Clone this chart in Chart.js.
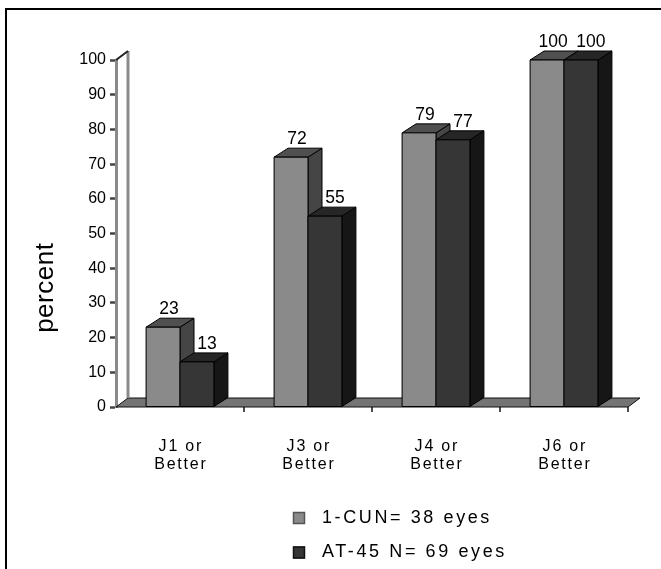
<!DOCTYPE html>
<html>
<head>
<meta charset="utf-8">
<script src="https://cdn.jsdelivr.net/npm/chart.js@4/dist/chart.umd.min.js"></script>
<style>
  html, body { margin: 0; padding: 0; background: #fff; }
  #wrap { width: 661px; height: 569px; }
</style>
</head>
<body>
<div id="wrap"><canvas id="c" width="661" height="569"></canvas></div>
<script>
// Categories (two-line labels) and the two series, in percent
const categories = [['J1 or', 'Better'], ['J3 or', 'Better'], ['J4 or', 'Better'], ['J6 or', 'Better']];
const cunValues = [23, 72, 79, 100];
const at45Values = [13, 55, 77, 100];
const seriesNames = ['1-CUN= 38 eyes', 'AT-45 N= 69 eyes'];
const yTickValues = [0, 10, 20, 30, 40, 50, 60, 70, 80, 90, 100];
const yAxisTitle = 'percent';

const FONT = '"Liberation Sans", Arial, Helvetica, sans-serif';
const DEPTH_X = 14, DEPTH_Y = 9;

// Face colours per series: front, top, side; plus value label shift
const faces = [
  { front: '#8a8a8a', top: '#505050', side: '#454545', labelShift: 6 },
  { front: '#363636', top: '#262626', side: '#161616', labelShift: 10 }
];

function poly(ctx, pts, fill, stroke) {
  ctx.beginPath();
  ctx.moveTo(pts[0][0], pts[0][1]);
  for (let i = 1; i < pts.length; i++) ctx.lineTo(pts[i][0], pts[i][1]);
  ctx.closePath();
  ctx.fillStyle = fill;
  ctx.fill();
  ctx.strokeStyle = stroke || '#000';
  ctx.lineWidth = 1;
  ctx.stroke();
}

function spacedText(ctx, text, x, y, spacing) {
  ctx.letterSpacing = spacing + 'px';
  ctx.fillText(text, x + spacing / 2, y);
  ctx.letterSpacing = '0px';
}

const scene3d = {
  id: 'scene3d',
  beforeDraw(chart) {
    const ctx = chart.ctx;
    ctx.save();
    ctx.fillStyle = '#fff';
    ctx.fillRect(0, 0, chart.width, chart.height);
    // frame: top and left rule
    ctx.strokeStyle = '#000';
    ctx.lineWidth = 2;
    ctx.beginPath();
    ctx.moveTo(6, chart.height);
    ctx.lineTo(6, 9);
    ctx.lineTo(chart.width, 9);
    ctx.stroke();
    ctx.restore();
  },
  beforeDatasetsDraw(chart) {
    const ctx = chart.ctx;
    const a = chart.chartArea;
    const xs = chart.scales.x;
    ctx.save();
    // floor slab
    poly(ctx, [[a.left, a.bottom], [a.right, a.bottom], [a.right + DEPTH_X - 2, a.bottom - DEPTH_Y], [a.left + DEPTH_X - 2, a.bottom - DEPTH_Y]], '#747474', '#111');
    // category separators under the floor
    ctx.strokeStyle = '#111';
    ctx.lineWidth = 1.5;
    for (let i = 1; i <= categories.length; i++) {
      const bx = i < categories.length ? (xs.getPixelForTick(i - 1) + xs.getPixelForTick(i)) / 2 : a.right;
      ctx.beginPath();
      ctx.moveTo(bx, a.bottom);
      ctx.lineTo(bx, a.bottom + 5);
      ctx.stroke();
    }
    // back wall edge and its top connector
    ctx.strokeStyle = '#8a8a8a';
    ctx.lineWidth = 3;
    ctx.beginPath();
    ctx.moveTo(a.left + DEPTH_X - 2, a.bottom - DEPTH_Y);
    ctx.lineTo(a.left + DEPTH_X - 2, a.top - DEPTH_Y);
    ctx.stroke();
    ctx.strokeStyle = '#222';
    ctx.lineWidth = 2;
    ctx.beginPath();
    ctx.moveTo(a.left, a.top);
    ctx.lineTo(a.left + DEPTH_X - 2, a.top - DEPTH_Y);
    ctx.stroke();
    ctx.restore();
  },
  afterDatasetsDraw(chart) {
    const ctx = chart.ctx;
    const metas = chart.data.datasets.map((_, i) => chart.getDatasetMeta(i));
    ctx.save();
    for (let j = 0; j < categories.length; j++) {
      metas.forEach((meta, i) => {
        const bar = meta.data[j];
        const p = bar.getProps(['x', 'y', 'base', 'width'], true);
        const l = p.x - p.width / 2, r = p.x + p.width / 2;
        const t = p.y, b = p.base;
        const f = faces[i];
        // side, top, then the front face on top of the previous bar's side
        poly(ctx, [[r, t], [r + DEPTH_X, t - DEPTH_Y], [r + DEPTH_X, b - DEPTH_Y], [r, b]], f.side);
        poly(ctx, [[l, t], [r, t], [r + DEPTH_X, t - DEPTH_Y], [l + DEPTH_X, t - DEPTH_Y]], f.top);
        poly(ctx, [[l, t], [r, t], [r, b], [l, b]], f.front);
      });
    }
    // value labels above each bar
    ctx.fillStyle = '#000';
    ctx.font = '17.5px ' + FONT;
    ctx.textAlign = 'center';
    ctx.textBaseline = 'alphabetic';
    metas.forEach((meta, i) => {
      meta.data.forEach((bar, j) => {
        const p = bar.getProps(['x', 'y'], true);
        const v = chart.data.datasets[i].data[j];
        ctx.fillText(String(v), p.x + faces[i].labelShift, p.y - DEPTH_Y - 4);
      });
    });
    ctx.restore();
  },
  afterDraw(chart) {
    const ctx = chart.ctx;
    const xs = chart.scales.x;
    ctx.save();
    ctx.fillStyle = '#000';
    // category labels
    ctx.font = '16px ' + FONT;
    ctx.textAlign = 'center';
    ctx.textBaseline = 'middle';
    chart.data.labels.forEach((lab, i) => {
      const x = xs.getPixelForTick(i);
      lab.forEach((line, k) => spacedText(ctx, line, x, 447 + k * 17.5, 1.8));
    });
    // axis title
    ctx.save();
    ctx.translate(46, 288);
    ctx.rotate(-Math.PI / 2);
    ctx.font = '26px ' + FONT;
    ctx.textAlign = 'center';
    ctx.textBaseline = 'middle';
    spacedText(ctx, yAxisTitle, 0, 0, 0.5);
    ctx.restore();
    // legend
    ctx.font = '18px ' + FONT;
    ctx.textAlign = 'left';
    ctx.textBaseline = 'middle';
    chart.data.datasets.forEach((ds, i) => {
      const cy = 518 + i * 34.5;
      ctx.fillStyle = ds.backgroundColor;
      ctx.fillRect(293, cy - 6, 12, 12);
      ctx.strokeStyle = i === 0 ? '#555' : '#111';
      ctx.lineWidth = 1.5;
      ctx.strokeRect(293.5, cy - 5.5, 11, 11);
      ctx.fillStyle = '#000';
      ctx.letterSpacing = '2.6px';
      ctx.fillText(ds.label, 322, cy);
      ctx.letterSpacing = '0px';
    });
    ctx.restore();
  }
};

new Chart(document.getElementById('c'), {
  type: 'bar',
  data: {
    labels: categories,
    datasets: [
      { label: seriesNames[0], data: cunValues, backgroundColor: faces[0].front, borderColor: '#000', borderWidth: 1 },
      { label: seriesNames[1], data: at45Values, backgroundColor: faces[1].front, borderColor: '#000', borderWidth: 1 }
    ]
  },
  options: {
    responsive: false,
    devicePixelRatio: 1,
    animation: false,
    layout: { padding: { top: 60, right: 33, bottom: 162, left: 0 } },
    datasets: { bar: { categoryPercentage: 0.53, barPercentage: 1.0 } },
    plugins: { legend: { display: false }, tooltip: { enabled: false } },
    scales: {
      x: { display: false },
      y: {
        min: 0,
        max: 100,
        afterFit(scale) { scale.width = 116; },
        afterBuildTicks(scale) { scale.ticks = yTickValues.map(v => ({ value: v })); },
        ticks: { color: '#000', font: { family: FONT, size: 16 }, padding: 4 },
        grid: { drawOnChartArea: false, drawTicks: true, tickLength: 6, tickWidth: 2.5, tickColor: '#444' },
        border: { display: true, color: '#8a8a8a', width: 3 }
      }
    }
  },
  plugins: [scene3d]
});
</script>
</body>
</html>
